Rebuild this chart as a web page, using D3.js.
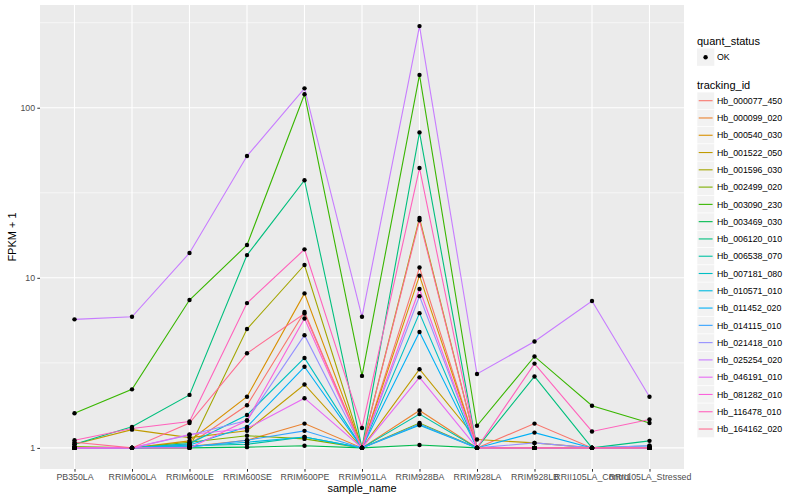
<!DOCTYPE html>
<html>
<head>
<meta charset="utf-8">
<script src="https://cdn.jsdelivr.net/npm/d3@7"></script>
<style>
  body { margin: 0; background: #fff; }
  svg { display: block; font-family: "Liberation Sans", Arial, sans-serif; }
</style>
</head>
<body>
<div id="chart"></div>
<script>
// categories on the x axis
const samples = ["PB350LA", "RRIM600LA", "RRIM600LE", "RRIM600SE", "RRIM600PE", "RRIM901LA",
  "RRIM928BA", "RRIM928LA", "RRIM928LB", "RRII105LA_Control", "RRII105LA_Stressed"];

// one series per tracking_id, FPKM + 1 per sample
const trackingIds = ["Hb_000077_450", "Hb_000099_020", "Hb_000540_030", "Hb_001522_050", "Hb_001596_030",
  "Hb_002499_020", "Hb_003090_230", "Hb_003469_030", "Hb_006120_010", "Hb_006538_070",
  "Hb_007181_080", "Hb_010571_010", "Hb_011452_020", "Hb_014115_010", "Hb_021418_010",
  "Hb_025254_020", "Hb_046191_010", "Hb_081282_010", "Hb_116478_010", "Hb_164162_020"];

const values = [
  [1.00, 1.00, 1.05, 1.78, 6.30, 1.00, 11.5, 1.00, 1.39, 1.00, 1.00],
  [1.00, 1.00, 1.02, 1.11, 1.39, 1.00, 1.66, 1.00, 1.00, 1.00, 1.00],
  [1.00, 1.00, 1.10, 2.00, 8.10, 1.00, 10.3, 1.00, 1.00, 1.00, 1.00],
  [1.05, 1.28, 1.15, 1.26, 2.36, 1.00, 2.90, 1.12, 1.07, 1.00, 1.00],
  [1.00, 1.00, 1.00, 5.00, 11.9, 1.00, 22.5, 1.00, 1.00, 1.00, 1.00],
  [1.02, 1.00, 1.08, 1.18, 1.13, 1.00, 1.40, 1.00, 1.00, 1.00, 1.00],
  [1.60, 2.21, 7.40, 15.6, 120, 2.65, 156, 1.35, 3.45, 1.77, 1.40],
  [1.00, 1.00, 1.00, 1.01, 1.03, 1.00, 1.04, 1.00, 1.00, 1.00, 1.00],
  [1.05, 1.33, 2.05, 13.6, 37.5, 1.00, 71.6, 1.00, 2.63, 1.00, 1.10],
  [1.00, 1.00, 1.03, 1.05, 1.16, 1.00, 1.58, 1.00, 1.00, 1.00, 1.00],
  [1.00, 1.00, 1.06, 1.56, 3.38, 1.00, 6.20, 1.00, 1.00, 1.00, 1.03],
  [1.00, 1.00, 1.02, 1.08, 1.16, 1.00, 1.36, 1.00, 1.00, 1.00, 1.00],
  [1.00, 1.00, 1.04, 1.33, 3.00, 1.00, 4.80, 1.00, 1.23, 1.00, 1.00],
  [1.00, 1.00, 1.01, 1.11, 1.26, 1.00, 1.38, 1.00, 1.00, 1.00, 1.00],
  [1.00, 1.00, 1.19, 1.45, 4.60, 1.00, 7.80, 1.00, 1.07, 1.00, 1.03],
  [5.70, 5.90, 14.0, 52.0, 130, 5.90, 302, 2.72, 4.22, 7.30, 2.00],
  [1.00, 1.00, 1.20, 1.30, 1.96, 1.00, 2.60, 1.00, 1.00, 1.00, 1.00],
  [1.00, 1.00, 1.00, 1.45, 5.76, 1.00, 8.60, 1.00, 1.00, 1.00, 1.00],
  [1.11, 1.30, 1.43, 7.10, 14.7, 1.31, 44.2, 1.00, 3.13, 1.25, 1.47],
  [1.08, 1.00, 1.40, 3.60, 6.17, 1.00, 21.8, 1.00, 1.00, 1.00, 1.00]
];

// ggplot2 hue palette for 20 levels
const palette = ["#F8766D", "#EA8331", "#D89000", "#C09B00", "#A3A500", "#7CAE00", "#39B600", "#00BB4E",
  "#00BF7D", "#00C1A3", "#00BFC4", "#00BAE0", "#00B0F6", "#35A2FF", "#9590FF", "#C77CFF",
  "#E76BF3", "#FA62DB", "#FF62BC", "#FF6C91"];

const yTicks = [1, 10, 100];
const yMinor = [Math.pow(10, 0.5), Math.pow(10, 1.5), Math.pow(10, 2.5)];

const width = 800, height = 500;
const panel = { left: 40, right: 684, top: 5, bottom: 469 };

const svg = d3.select("#chart").append("svg")
  .attr("width", width)
  .attr("height", height);

// discrete x: ggplot adds 0.6 of a step on each side
const x = d3.scalePoint()
  .domain(samples)
  .range([panel.left, panel.right])
  .padding(0.6);

// log y with 5% expansion of the log range
const allVals = values.flat();
const lmin = Math.log10(d3.min(allVals)), lmax = Math.log10(d3.max(allVals));
const pad = (lmax - lmin) * 0.05;
const y = d3.scaleLog()
  .domain([Math.pow(10, lmin - pad), Math.pow(10, lmax + pad)])
  .range([panel.bottom, panel.top]);

// panel background
svg.append("rect")
  .attr("x", panel.left).attr("y", panel.top)
  .attr("width", panel.right - panel.left)
  .attr("height", panel.bottom - panel.top)
  .attr("fill", "#EBEBEB");

// grid
const grid = svg.append("g").attr("stroke", "#fff");
grid.selectAll(".minor").data(yMinor).join("line")
  .attr("x1", panel.left).attr("x2", panel.right)
  .attr("y1", d => y(d)).attr("y2", d => y(d))
  .attr("stroke-width", 0.55);
grid.selectAll(".major").data(yTicks).join("line")
  .attr("x1", panel.left).attr("x2", panel.right)
  .attr("y1", d => y(d)).attr("y2", d => y(d))
  .attr("stroke-width", 1.1);
grid.selectAll(".xmajor").data(samples).join("line")
  .attr("x1", d => x(d)).attr("x2", d => x(d))
  .attr("y1", panel.top).attr("y2", panel.bottom)
  .attr("stroke-width", 1.1);

// lines
const line = d3.line()
  .x((d, i) => x(samples[i]))
  .y(d => y(d));

svg.append("g").selectAll("path")
  .data(values)
  .join("path")
  .attr("fill", "none")
  .attr("stroke", (d, i) => palette[i])
  .attr("stroke-width", 1.1)
  .attr("d", line);

// points
const pts = values.flatMap((row, s) => row.map((v, i) => ({ s, i, v })));
svg.append("g").selectAll("circle")
  .data(pts)
  .join("circle")
  .attr("cx", d => x(samples[d.i]))
  .attr("cy", d => y(d.v))
  .attr("r", 2.2)
  .attr("fill", "#000");

// y axis
const yAxis = d3.axisLeft(y).tickValues(yTicks).tickFormat(d3.format("d")).tickSize(2.7).tickPadding(2.2);
svg.append("g")
  .attr("transform", `translate(${panel.left},0)`)
  .call(yAxis)
  .call(g => g.select(".domain").remove())
  .call(g => g.selectAll("line").attr("stroke", "#333"))
  .call(g => g.selectAll("text").attr("fill", "#4D4D4D").attr("font-size", 8.8).attr("font-family", "Liberation Sans, Arial, sans-serif"));

// x axis
const xAxis = d3.axisBottom(x).tickSize(2.7).tickPadding(2.2);
svg.append("g")
  .attr("transform", `translate(0,${panel.bottom})`)
  .call(xAxis)
  .call(g => g.select(".domain").remove())
  .call(g => g.selectAll("line").attr("stroke", "#333"))
  .call(g => g.selectAll("text").attr("fill", "#4D4D4D").attr("font-size", 8.8).attr("font-family", "Liberation Sans, Arial, sans-serif"));

// axis titles
svg.append("text")
  .attr("x", (panel.left + panel.right) / 2)
  .attr("y", 492)
  .attr("text-anchor", "middle")
  .attr("font-size", 11)
  .text("sample_name");

svg.append("text")
  .attr("transform", `translate(16,${(panel.top + panel.bottom) / 2}) rotate(-90)`)
  .attr("text-anchor", "middle")
  .attr("font-size", 11)
  .text("FPKM + 1");

// legend: quant_status
const lg = svg.append("g").attr("transform", "translate(697,0)");
lg.append("text").attr("x", 0).attr("y", 44.5).attr("font-size", 11).text("quant_status");
lg.append("rect").attr("x", 0).attr("y", 48.5).attr("width", 17.3).attr("height", 17.3).attr("fill", "#F2F2F2");
lg.append("circle").attr("cx", 8.6).attr("cy", 57.2).attr("r", 2.2).attr("fill", "#000");
lg.append("text").attr("x", 20).attr("y", 60.4).attr("font-size", 8.8).text("OK");

// legend: tracking_id
lg.append("text").attr("x", 0).attr("y", 89).attr("font-size", 11).text("tracking_id");
const step = 17.28, first = 100.7;
const items = lg.selectAll(".item").data(trackingIds).join("g")
  .attr("transform", (d, i) => `translate(0,${first + i * step})`);
items.append("rect")
  .attr("x", 0).attr("y", -step / 2)
  .attr("width", 17.3).attr("height", step)
  .attr("fill", "#F2F2F2")
  .attr("stroke", "#fff").attr("stroke-width", 0.6);
items.append("line")
  .attr("x1", 1.7).attr("x2", 15.6)
  .attr("stroke", (d, i) => palette[i])
  .attr("stroke-width", 1.1);
items.append("text")
  .attr("x", 20).attr("y", 3.2)
  .attr("font-size", 8.8)
  .text(d => d);
</script>
</body>
</html>
